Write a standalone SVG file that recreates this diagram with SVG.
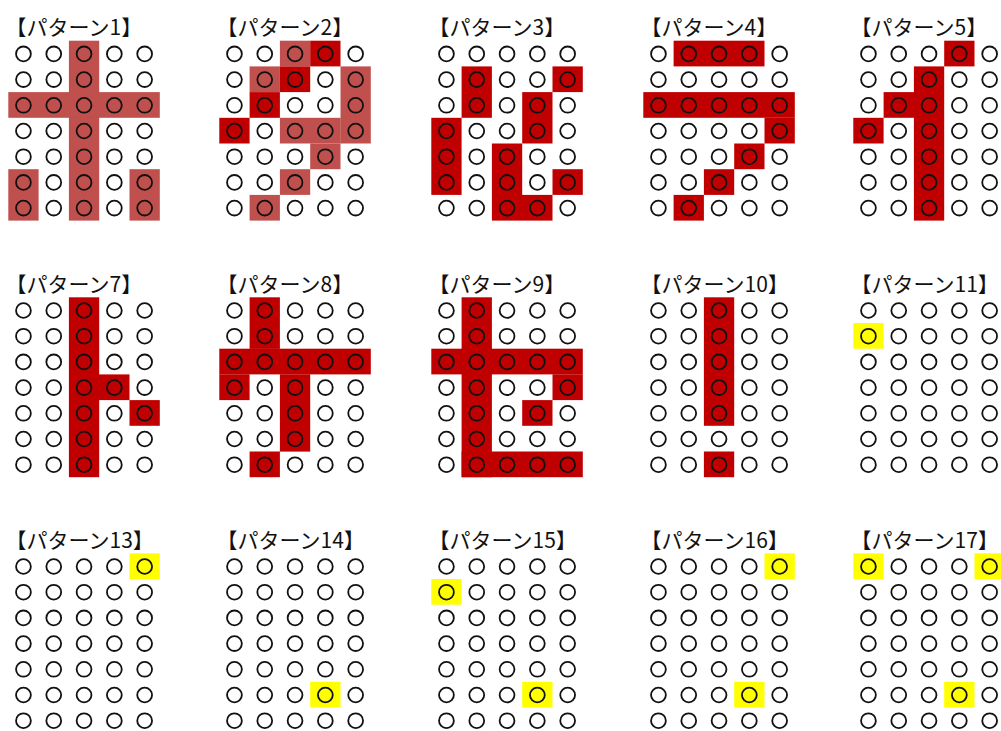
<svg xmlns="http://www.w3.org/2000/svg" xmlns:xlink="http://www.w3.org/1999/xlink" width="1001" height="731" viewBox="0 0 1001 731">
<style>
.m{fill:#C0504D}
.b{fill:#C00000}
.y{fill:#FFFF00}
.lbl{font-family:"Noto Sans CJK JP","Noto Sans CJK SC",sans-serif;font-size:21px;fill:#111}
</style>
<defs>
<g id="row">
<circle cx="15.15" cy="13.2" r="7.4"/>
<circle cx="45.45" cy="13.2" r="7.4"/>
<circle cx="75.75" cy="13.2" r="7.4"/>
<circle cx="106.05" cy="13.2" r="7.4"/>
<circle cx="136.35" cy="13.2" r="7.4"/>
</g>
<g id="dots" fill="none" stroke="#111" stroke-width="1.8">
<use href="#row"/>
<use href="#row" y="25.7"/>
<use href="#row" y="51.4"/>
<use href="#row" y="77.1"/>
<use href="#row" y="102.8"/>
<use href="#row" y="128.5"/>
<use href="#row" y="154.2"/>
</g>
</defs>
<rect width="1001" height="731" fill="#fff"/>

<g id="p1" transform="translate(8.3,40.7)">
<rect class="m" x="60.6" y="0" width="30.3" height="179.9"/>
<rect class="m" x="0" y="51.4" width="151.5" height="25.7"/>
<rect class="m" x="0" y="128.5" width="30.3" height="51.4"/>
<rect class="m" x="121.2" y="128.5" width="30.3" height="51.4"/>
<use href="#dots"/>
<text class="lbl" x="-2.7" y="-5.5">【パターン1】</text>
</g>

<g id="p2" transform="translate(219.3,40.7)">
<rect class="m" x="60.6" y="0" width="30.3" height="25.7"/>
<rect class="b" x="90.9" y="0" width="30.3" height="25.7"/>
<rect class="m" x="30.3" y="25.7" width="30.3" height="25.7"/>
<rect class="b" x="60.6" y="25.7" width="30.3" height="25.7"/>
<rect class="m" x="121.2" y="25.7" width="30.3" height="77.1"/>
<rect class="b" x="30.3" y="51.4" width="30.3" height="25.7"/>
<rect class="b" x="0" y="77.1" width="30.3" height="25.7"/>
<rect class="m" x="60.6" y="77.1" width="60.8" height="25.7"/>
<rect class="m" x="90.9" y="102.8" width="30.3" height="25.7"/>
<rect class="m" x="60.6" y="128.5" width="30.3" height="25.7"/>
<rect class="m" x="30.3" y="154.2" width="30.3" height="25.7"/>
<use href="#dots"/>
<text class="lbl" x="-2.7" y="-5.5">【パターン2】</text>
</g>

<g id="p3" transform="translate(431.3,40.7)">
<rect class="b" x="30.3" y="25.7" width="30.3" height="51.4"/>
<rect class="b" x="121.2" y="25.7" width="30.3" height="25.7"/>
<rect class="b" x="90.9" y="51.4" width="30.3" height="51.4"/>
<rect class="b" x="0" y="77.1" width="30.3" height="77.1"/>
<rect class="b" x="60.6" y="102.8" width="30.3" height="77.1"/>
<rect class="b" x="121.2" y="128.5" width="30.3" height="25.7"/>
<rect class="b" x="90.6" y="154.2" width="30.6" height="25.7"/>
<use href="#dots"/>
<text class="lbl" x="-2.7" y="-5.5">【パターン3】</text>
</g>

<g id="p4" transform="translate(643.3,40.7)">
<rect class="b" x="30.3" y="0" width="90.9" height="25.7"/>
<rect class="b" x="0" y="51.4" width="151.5" height="25.7"/>
<rect class="b" x="121.2" y="77.1" width="30.3" height="25.7"/>
<rect class="b" x="90.9" y="102.8" width="30.3" height="25.7"/>
<rect class="b" x="60.6" y="128.5" width="30.3" height="25.7"/>
<rect class="b" x="30.3" y="154.2" width="30.3" height="25.7"/>
<use href="#dots"/>
<text class="lbl" x="-2.7" y="-5.5">【パターン4】</text>
</g>

<g id="p5" transform="translate(853.3,40.7)">
<rect class="b" x="90.9" y="0" width="30.3" height="25.7"/>
<rect class="b" x="60.6" y="25.7" width="30.3" height="154.2"/>
<rect class="b" x="30.3" y="51.4" width="30.6" height="25.7"/>
<rect class="b" x="0" y="77.1" width="30.3" height="25.7"/>
<use href="#dots"/>
<text class="lbl" x="-2.7" y="-5.5">【パターン5】</text>
</g>

<g id="p7" transform="translate(8.3,297.3)">
<rect class="b" x="60.6" y="0" width="30.3" height="179.9"/>
<rect class="b" x="90.6" y="77.1" width="30.6" height="25.7"/>
<rect class="b" x="121.2" y="102.8" width="30.3" height="25.7"/>
<use href="#dots"/>
<text class="lbl" x="-2.7" y="-5.5">【パターン7】</text>
</g>

<g id="p8" transform="translate(219.3,297.3)">
<rect class="b" x="30.3" y="0" width="30.3" height="51.6"/>
<rect class="b" x="0" y="51.4" width="151.5" height="25.7"/>
<rect class="b" x="0" y="77" width="30.3" height="25.8"/>
<rect class="b" x="60.6" y="77" width="30.3" height="77.3"/>
<rect class="b" x="30.3" y="154.2" width="30.3" height="25.7"/>
<use href="#dots"/>
<text class="lbl" x="-2.7" y="-5.5">【パターン8】</text>
</g>

<g id="p9" transform="translate(431.3,297.3)">
<rect class="b" x="30.3" y="0" width="30.3" height="179.9"/>
<rect class="b" x="0" y="51.4" width="151.5" height="25.7"/>
<rect class="b" x="121.2" y="77" width="30.3" height="25.8"/>
<rect class="b" x="90.9" y="102.8" width="30.3" height="25.7"/>
<rect class="b" x="30.3" y="154.2" width="121.2" height="25.7"/>
<use href="#dots"/>
<text class="lbl" x="-2.7" y="-5.5">【パターン9】</text>
</g>

<g id="p10" transform="translate(643.3,297.3)">
<rect class="b" x="60.6" y="0" width="30.3" height="128.5"/>
<rect class="b" x="60.6" y="154.2" width="30.3" height="25.7"/>
<use href="#dots"/>
<text class="lbl" x="-2.7" y="-5.5">【パターン10】</text>
</g>

<g id="p11" transform="translate(853.3,297.3)">
<rect class="y" x="0" y="25.7" width="30.3" height="25.7"/>
<use href="#dots"/>
<text class="lbl" x="-2.7" y="-5.5">【パターン11】</text>
</g>

<g id="p13" transform="translate(8.3,553.3)">
<rect class="y" x="121.2" y="0" width="30.3" height="25.7"/>
<use href="#dots"/>
<text class="lbl" x="-2.7" y="-5.5">【パターン13】</text>
</g>

<g id="p14" transform="translate(219.3,553.3)">
<rect class="y" x="90.9" y="128.5" width="30.3" height="25.7"/>
<use href="#dots"/>
<text class="lbl" x="-2.7" y="-5.5">【パターン14】</text>
</g>

<g id="p15" transform="translate(431.3,553.3)">
<rect class="y" x="0" y="25.7" width="30.3" height="25.7"/>
<rect class="y" x="90.9" y="128.5" width="30.3" height="25.7"/>
<use href="#dots"/>
<text class="lbl" x="-2.7" y="-5.5">【パターン15】</text>
</g>

<g id="p16" transform="translate(643.3,553.3)">
<rect class="y" x="121.2" y="0" width="30.3" height="25.7"/>
<rect class="y" x="90.9" y="128.5" width="30.3" height="25.7"/>
<use href="#dots"/>
<text class="lbl" x="-2.7" y="-5.5">【パターン16】</text>
</g>

<g id="p17" transform="translate(853.3,553.3)">
<rect class="y" x="0" y="0" width="30.3" height="25.7"/>
<rect class="y" x="121.2" y="0" width="30.3" height="25.7"/>
<rect class="y" x="90.9" y="128.5" width="30.3" height="25.7"/>
<use href="#dots"/>
<text class="lbl" x="-2.7" y="-5.5">【パターン17】</text>
</g>

<g id="connectors"></g>
</svg>
